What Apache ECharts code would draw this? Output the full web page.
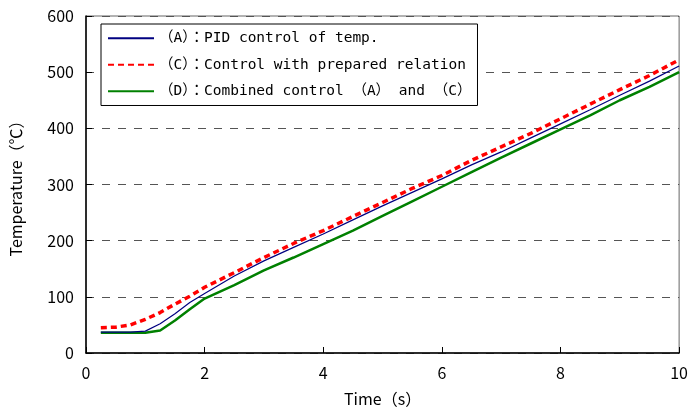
<!DOCTYPE html>
<html>
<head>
<meta charset="utf-8">
<script src="https://cdn.jsdelivr.net/npm/echarts@6/dist/echarts.min.js"></script>
<style>
  html, body { margin: 0; padding: 0; background: #fff; }
  #chart { width: 691px; height: 412px; }
</style>
</head>
<body>
<div id="chart"></div>
<script>
// time (s)
var aTime = [0.25, 0.5, 0.75, 1.0, 1.25, 1.5, 1.75, 2.0, 2.5, 3.0, 3.5, 4.0, 4.5, 5.0, 5.5, 6.0, 6.5, 7.0, 7.5, 8.0, 8.5, 9.0, 9.5, 10.0];
// (A) PID control
var aPid = [37, 37, 37, 39, 52, 70, 90, 106, 137, 164, 188, 212, 237, 262, 286, 310, 335, 358, 383, 408, 433, 459, 484, 511];
// (C) prepared relation
var aPrep = [45, 46, 50, 60, 72, 87, 101, 117, 143, 170, 195, 218, 243, 268, 293, 316, 343, 367, 391, 417, 443, 469, 494, 522];
// (D) combined
var aComb = [36, 36, 36, 36, 40, 58, 78, 97, 121, 147, 170, 194, 218, 244, 270, 296, 322, 348, 373, 398, 423, 450, 474, 500];

var aNames = ['（A）：PID control of temp.', '（C）：Control with prepared relation', '（D）：Combined control （A） and （C）'];

function pairs(aY) {
    var aOut = [];
    for (var i = 0; i < aTime.length; i++) {
        aOut.push([aTime[i], aY[i]]);
    }
    return aOut;
}

var cFont = '"Noto Sans CJK JP", sans-serif';

var oChart = echarts.init(document.getElementById('chart'), null, { renderer: 'canvas' });

var oOption = {
    backgroundColor: '#fff',
    animation: false,
    grid: {
        left: 82, right: 9, top: 16, bottom: 59,
        show: true,
        borderColor: '#666',
        borderWidth: 1
    },
    legend: {
        orient: 'vertical',
        left: 101,
        top: 24,
        padding: [7, 6, 7, 6],
        borderColor: '#000',
        borderWidth: 1,
        backgroundColor: '#fff',
        itemWidth: 46,
        itemHeight: 14,
        itemGap: 12,
        itemStyle: { opacity: 0 },
        textStyle: {
            fontFamily: '"DejaVu Sans Mono", "Noto Sans CJK JP", monospace',
            fontSize: 14.5,
            color: '#000'
        },
        data: aNames
    },
    xAxis: {
        type: 'value',
        min: 0,
        max: 10,
        interval: 2,
        name: 'Time（s）',
        nameLocation: 'middle',
        nameGap: 38,
        nameTextStyle: { fontFamily: cFont, fontSize: 16, color: '#000' },
        axisLine: { lineStyle: { color: '#000', width: 1.5 } },
        axisTick: { inside: true, length: 6, lineStyle: { color: '#000' } },
        axisLabel: { fontFamily: cFont, fontSize: 16, color: '#000', margin: 12 },
        splitLine: { show: false }
    },
    yAxis: {
        type: 'value',
        min: 0,
        max: 600,
        interval: 100,
        name: 'Temperature（℃）',
        nameLocation: 'middle',
        nameGap: 62,
        nameTextStyle: { fontFamily: cFont, fontSize: 16, color: '#000' },
        axisLine: { show: true, lineStyle: { color: '#000', width: 1.5 } },
        axisTick: { show: true, inside: true, length: 6, lineStyle: { color: '#000' } },
        axisLabel: { fontFamily: cFont, fontSize: 16, color: '#000', margin: 12 },
        splitLine: { show: true, lineStyle: { color: '#555', type: [8, 8], width: 1 } }
    },
    series: [
        {
            name: aNames[0],
            type: 'line',
            symbol: 'none',
            data: pairs(aPid),
            lineStyle: { color: '#000080', width: 1.2 },
            itemStyle: { color: '#000080' },
            z: 3
        },
        {
            name: aNames[1],
            type: 'line',
            symbol: 'none',
            data: pairs(aPrep),
            lineStyle: { color: '#ff0000', width: 3.5, type: [6, 4] },
            itemStyle: { color: '#ff0000' },
            z: 4
        },
        {
            name: aNames[2],
            type: 'line',
            symbol: 'none',
            data: pairs(aComb),
            lineStyle: { color: '#008000', width: 2.5 },
            itemStyle: { color: '#008000' },
            z: 2
        }
    ]
};

oChart.setOption(oOption);
</script>
</body>
</html>
